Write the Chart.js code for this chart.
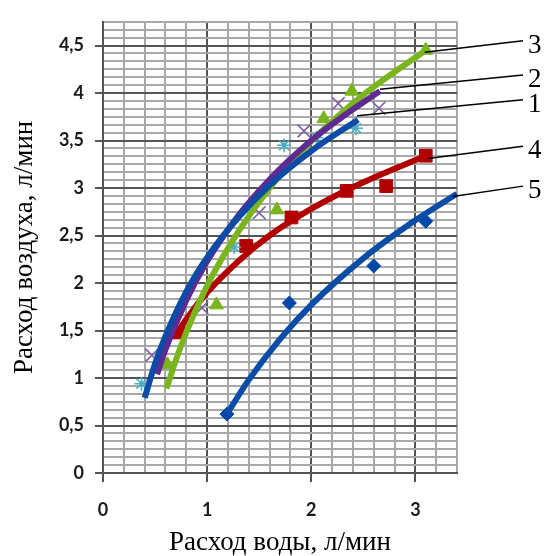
<!DOCTYPE html>
<html>
<head>
<meta charset="utf-8">
<script src="https://cdn.jsdelivr.net/npm/chart.js@4.4.1/dist/chart.umd.min.js"></script>
<style>
  html, body { margin: 0; padding: 0; background: #fff; }
</style>
</head>
<body>
<canvas id="chart" width="547" height="556"></canvas>
<script>
// --- data ---
// 1: cyan asterisks
const s1X = [0.37, 1.26, 1.74, 2.05, 2.43];
const s1Y = [0.94, 2.38, 3.45, 3.53, 3.63];
// 2: purple crosses
const s2X = [0.47, 0.95, 1.50, 1.93, 2.26, 2.65];
const s2Y = [1.24, 1.74, 2.74, 3.60, 3.89, 3.84];
// 3: green triangles
const s3X = [0.62, 1.09, 1.67, 2.12, 2.39, 3.10];
const s3Y = [1.14, 1.77, 2.77, 3.73, 4.02, 4.45];
// 4: red squares
const s4X = [0.72, 1.375, 1.81, 2.34, 2.72, 3.10];
const s4Y = [1.48, 2.39, 2.69, 2.97, 3.02, 3.34];
// 5: blue diamonds
const s5X = [1.19, 1.79, 2.60, 3.10];
const s5Y = [0.62, 1.79, 2.18, 2.65];

// trend lines (log)
const t1X = [0.40, 0.5, 0.6, 0.8, 1.0, 1.3, 1.6, 2.0, 2.45];
const t1Y = [0.79, 1.15, 1.44, 1.91, 2.27, 2.69, 3.03, 3.39, 3.72];
const t2X = [0.52, 0.6, 0.8, 1.0, 1.3, 1.6, 2.0, 2.3, 2.66];
const t2Y = [1.04, 1.30, 1.82, 2.23, 2.71, 3.09, 3.50, 3.75, 4.02];
const t3X = [0.61, 0.7, 0.8, 1.0, 1.3, 1.6, 2.0, 2.5, 3.1];
const t3Y = [0.89, 1.19, 1.48, 1.97, 2.54, 3.00, 3.49, 3.98, 4.45];
const t4X = [0.69, 0.8, 1.0, 1.3, 1.6, 2.0, 2.5, 3.1];
const t4Y = [1.43, 1.62, 1.90, 2.23, 2.50, 2.78, 3.06, 3.34];
const t5X = [1.19, 1.4, 1.7, 2.0, 2.5, 3.0, 3.4];
const t5Y = [0.62, 0.98, 1.41, 1.77, 2.26, 2.66, 2.94];

const xTickLabels = ['0', '1', '2', '3'];
const yTickLabels = ['0', '0,5', '1', '1,5', '2', '2,5', '3', '3,5', '4', '4,5'];

// numbered callouts on the right
const calloutText = ['3', '2', '1', '4', '5'];
const calloutFromX = [3.09, 2.66, 2.44, 3.12, 3.36];
const calloutFromY = [4.43, 4.04, 3.76, 3.31, 2.91];
const calloutToY = [4.55, 4.19, 3.93, 3.44, 3.02];

const MAJOR = '#555555';
const MINOR = '#a8a8a8';

const pts = (xs, ys) => xs.map((v, i) => ({ x: v, y: ys[i] }));

function marker(xs, ys, style, r, color, bw) {
    return {
        data: pts(xs, ys),
        showLine: false,
        pointStyle: style,
        pointRadius: r,
        pointBackgroundColor: color,
        pointBorderColor: color,
        pointBorderWidth: bw,
        order: 10
    };
}

function trend(xs, ys, color, order) {
    return {
        data: pts(xs, ys),
        borderColor: color,
        borderWidth: 6,
        pointRadius: 0,
        cubicInterpolationMode: 'monotone',
        fill: false,
        order: order
    };
}

const callouts = {
    id: 'callouts',
    afterDraw(chart) {
        const { ctx, chartArea } = chart;
        const sx = chart.scales.x, sy = chart.scales.y;
        ctx.save();
        ctx.strokeStyle = '#000';
        ctx.lineWidth = 1.5;
        ctx.fillStyle = '#000';
        ctx.font = '27px "Liberation Serif"';
        ctx.textAlign = 'left';
        ctx.textBaseline = 'middle';
        calloutText.forEach((t, i) => {
            const x0 = sx.getPixelForValue(calloutFromX[i]);
            const y0 = sy.getPixelForValue(calloutFromY[i]);
            const x1 = chartArea.right + 66;
            const y1 = sy.getPixelForValue(calloutToY[i]);
            ctx.beginPath();
            ctx.moveTo(x0, y0);
            ctx.lineTo(x1, y1);
            ctx.stroke();
            ctx.fillText(t, x1 + 5, y1 + 5);
        });
        ctx.restore();
    }
};

new Chart(document.getElementById('chart'), {
    type: 'line',
    data: {
        datasets: [
            marker(s1X, s1Y, 'star', 7, '#4bacc6', 1.6),
            marker(s2X, s2Y, 'crossRot', 9, '#8064a2', 1.6),
            marker(s3X, s3Y, 'triangle', 8, '#7ab51d', 1),
            marker(s4X, s4Y, 'rect', 9, '#b20000', 1),
            marker(s5X, s5Y, 'rectRot', 7, '#0048a8', 1),
            trend(t4X, t4Y, '#b20000', 5),
            trend(t3X, t3Y, '#7ab51d', 4),
            trend(t2X, t2Y, '#5f2a91', 3),
            trend(t1X, t1Y, '#0d4ca6', 2),
            trend(t5X, t5Y, '#0a4ca6', 1)
        ]
    },
    options: {
        responsive: false,
        animation: false,
        layout: { padding: { left: 0, right: 90, top: 13, bottom: 0 } },
        plugins: { legend: { display: false }, tooltip: { enabled: false } },
        scales: {
            x: {
                type: 'linear',
                min: 0,
                max: 3.4,
                afterBuildTicks: s => {
                    s.ticks = [];
                    for (let i = 0; i <= 17; i++) s.ticks.push({ value: i * 0.2 });
                },
                afterFit: s => { s.height = 83; },
                grid: {
                    color: c => c.index % 5 === 0 ? MAJOR : MINOR,
                    lineWidth: 2,
                    tickLength: 9,
                    tickColor: c => c.index % 5 === 0 ? MAJOR : 'transparent'
                },
                border: { color: MAJOR, width: 2 },
                ticks: {
                    autoSkip: false,
                    maxRotation: 0,
                    padding: 17,
                    color: '#1a1a1a',
                    font: { family: 'Lato', size: 18, weight: 'bold' },
                    callback: (v, i) => i % 5 === 0 ? xTickLabels[i / 5] : ''
                },
                title: {
                    display: true,
                    text: 'Расход воды, л/мин',
                    color: '#000',
                    padding: { top: 0, bottom: 0 },
                    font: { family: 'Liberation Serif', size: 27, lineHeight: 1 }
                }
            },
            y: {
                type: 'linear',
                min: 0,
                max: 4.75,
                afterBuildTicks: s => {
                    s.ticks = [];
                    for (let i = 0; i <= 57; i++) s.ticks.push({ value: i / 12 });
                },
                afterFit: s => { s.width = 103; },
                grid: {
                    color: c => c.index % 6 === 0 ? MAJOR : MINOR,
                    lineWidth: 2,
                    tickLength: 8,
                    tickColor: c => c.index % 6 === 0 ? MAJOR : 'transparent'
                },
                border: { color: MAJOR, width: 2 },
                ticks: {
                    autoSkip: false,
                    padding: 11,
                    color: '#1a1a1a',
                    font: { family: 'Lato', size: 18, weight: 'bold' },
                    callback: (v, i) => i % 6 === 0 ? yTickLabels[i / 6] : ''
                },
                title: {
                    display: true,
                    text: 'Расход воздуха, л/мин',
                    color: '#000',
                    padding: { top: 11, bottom: 0 },
                    font: { family: 'Liberation Serif', size: 27, lineHeight: 1 }
                }
            }
        }
    },
    plugins: [callouts]
});
</script>
</body>
</html>
